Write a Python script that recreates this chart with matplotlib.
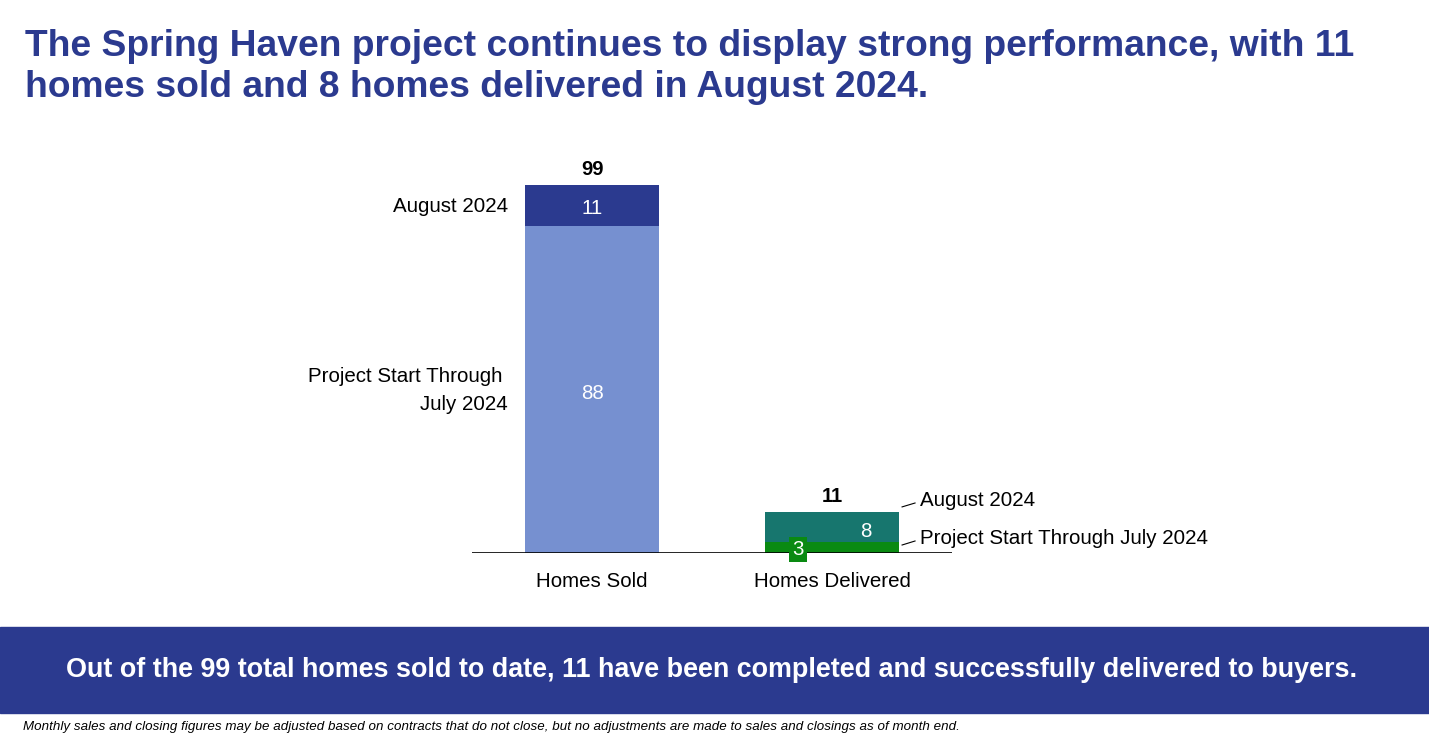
import numpy as np
import matplotlib.pyplot as plt

categories = ["Homes Sold", "Homes Delivered"]
prior = [88, 3]          # Project Start Through July 2024
august = [11, 8]         # August 2024
totals = [p + a for p, a in zip(prior, august)]

title = ("The Spring Haven project continues to display strong performance, with 11\n"
         "homes sold and 8 homes delivered in August 2024.")
banner = ("Out of the 99 total homes sold to date, 11 have been completed and "
          "successfully delivered to buyers.")
footnote = ("Monthly sales and closing figures may be adjusted based on contracts that do not close, "
            "but no adjustments are made to sales and closings as of month end.")

navy = "#2B3A8F"
light_blue = "#7690D0"
teal = "#17766E"
green = "#0A8A12"

plt.rcParams['font.family'] = ['Liberation Sans', 'DejaVu Sans']

W, H = 1429, 740
fig = plt.figure(figsize=(W / 100, H / 100), dpi=100)

ax = fig.add_axes([472 / W, (H - 553) / H, 480 / W, (553 - 185) / H])
x = np.arange(len(categories))
wid = 0.558
ax.bar(x, prior, width=wid, color=[light_blue, green])
ax.bar(x, august, bottom=prior, width=wid, color=[navy, teal])
ax.set_xlim(-0.5, 1.5)
ax.set_ylim(0, 99)
ax.axhline(0, color="black", lw=1.2, zorder=5)
for s in ax.spines.values():
    s.set_visible(False)
ax.set_xticks([])
ax.set_yticks([])

fs = 14.8
for i, c in enumerate(categories):
    ax.text(x[i], -7.8, c, ha="center", va="center", fontsize=fs)
    ax.text(x[i], totals[i] + 4.1, str(totals[i]), ha="center", va="center",
            fontsize=14.5, fontweight="bold")

# inside labels
ax.text(x[0], prior[0] + august[0] / 2 - 0.9, str(august[0]), color="white",
        ha="center", va="center", fontsize=fs)
ax.text(x[0], prior[0] / 2 - 1.0, str(prior[0]), color="white",
        ha="center", va="center", fontsize=fs)
ax.text(x[1] + 0.14, prior[1] + august[1] / 2 - 1.1, str(august[1]), color="white",
        ha="center", va="center", fontsize=fs)
ax.text(x[1] - 0.142, 0.9, str(prior[1]), color="white", ha="center", va="center",
        fontsize=fs, zorder=6,
        bbox=dict(boxstyle="square,pad=0.15", fc=green, ec="none"))

# left labels for Homes Sold
ax.text(-0.35, prior[0] + august[0] / 2 - 0.4, "August 2024", ha="right", va="center",
        fontsize=fs)
ax.text(-0.35, prior[0] / 2 - 0.2, "Project Start Through \nJuly 2024", ha="right", va="center",
        fontsize=fs, linespacing=1.6)

# right labels for Homes Delivered with leader lines
ax.plot([1.292, 1.346], [12.4, 13.45], color="black", lw=0.8, clip_on=False)
ax.plot([1.292, 1.346], [2.15, 3.23], color="black", lw=0.8, clip_on=False)
ax.text(1.367, 14.0, "August 2024", ha="left", va="center", fontsize=fs)
ax.text(1.367, 4.0, "Project Start Through July 2024", ha="left", va="center", fontsize=fs)

for t in ax.texts:
    t.set_clip_on(False)

# title
fig.text(25 / W, 1 - 67 / H, title, ha="left", va="center", fontsize=26.8,
         fontweight="bold", color=navy, linespacing=1.22)

# banner
fig.patches.append(plt.Rectangle((0, (H - 713) / H), 1, 86 / H, transform=fig.transFigure,
                                 color=navy, zorder=0))
fig.text(712 / W, 1 - 670 / H, banner, ha="center", va="center", fontsize=19.35,
         fontweight="bold", color="white")

fig.text(23 / W, 1 - 727 / H, footnote, ha="left", va="center", fontsize=9.65,
         style="italic")

fig.savefig("out.png", dpi=100)
